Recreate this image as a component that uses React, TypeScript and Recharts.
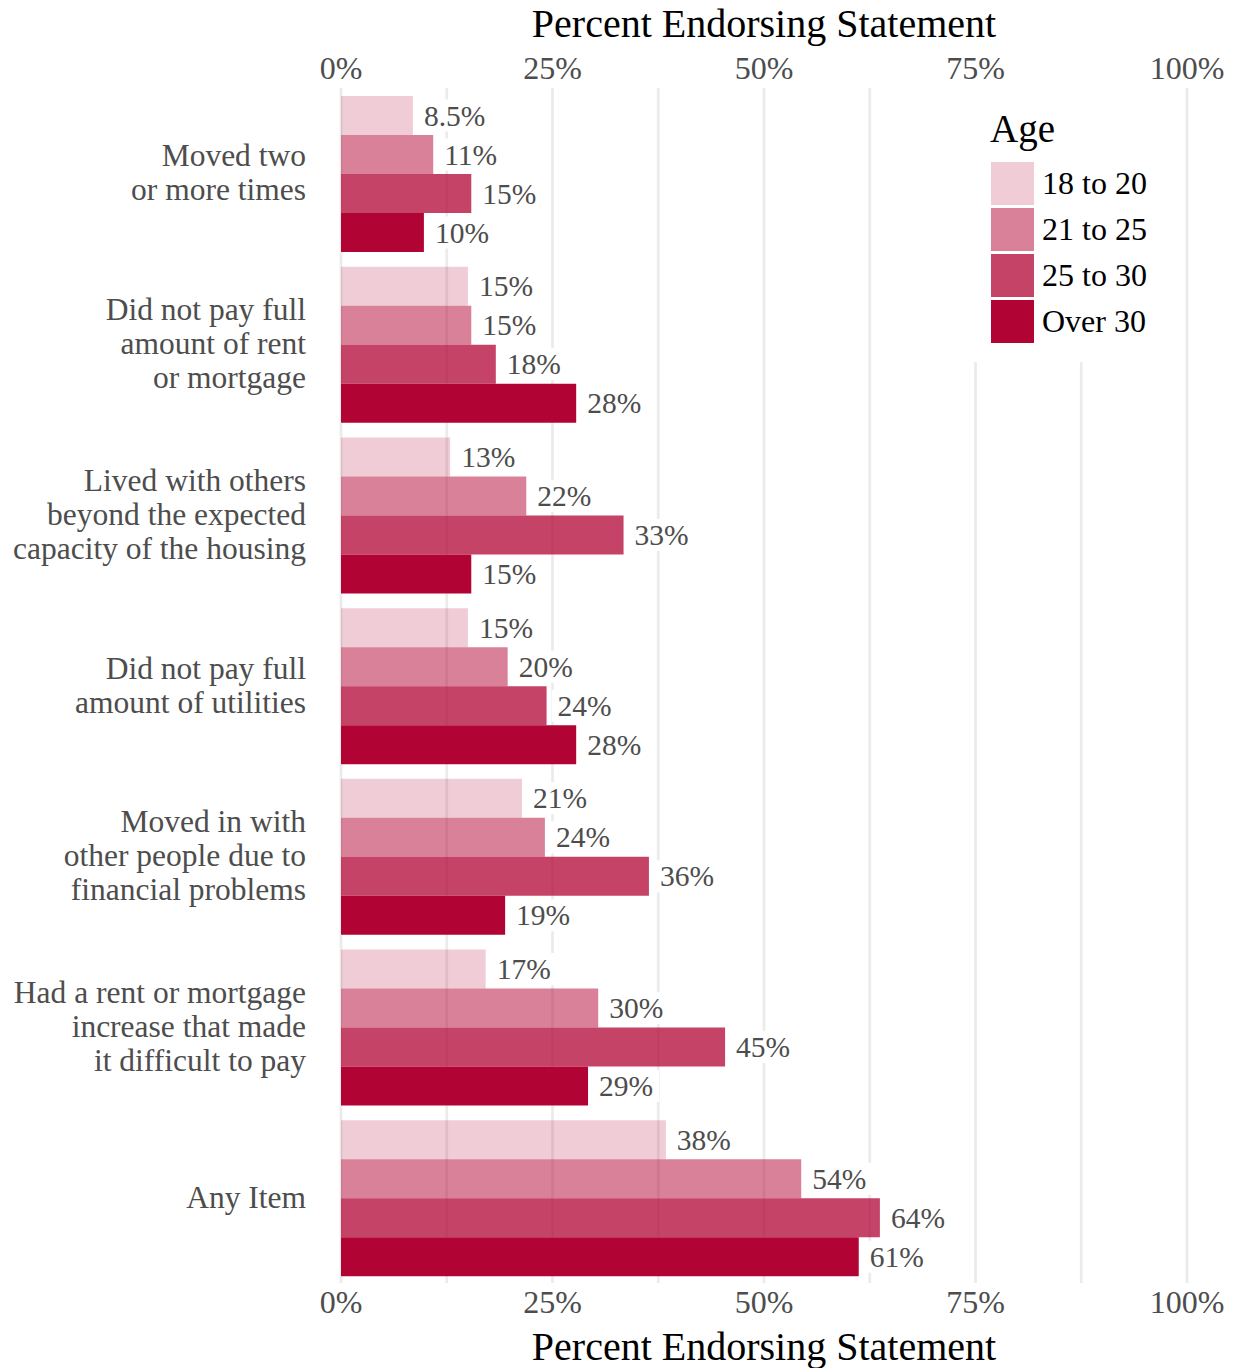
import React from "react";
import { BarChart, Bar, XAxis, YAxis, CartesianGrid, LabelList, Legend } from "recharts";

const FONT = '"Liberation Serif", "Times New Roman", serif';
const BASE = "#b20434";

const categories = [
  "Moved two\nor more times",
  "Did not pay full\namount of rent\nor mortgage",
  "Lived with others\nbeyond the expected\ncapacity of the housing",
  "Did not pay full\namount of utilities",
  "Moved in with\nother people due to\nfinancial problems",
  "Had a rent or mortgage\nincrease that made\nit difficult to pay",
  "Any Item",
];

// percent endorsing, one list per age group
const age18to20 = [8.5, 15.0, 12.9, 15.0, 21.4, 17.1, 38.4];
const age21to25 = [10.9, 15.4, 21.9, 19.7, 24.1, 30.4, 54.4];
const age25to30 = [15.4, 18.3, 33.4, 24.3, 36.4, 45.4, 63.7];
const ageOver30 = [9.8, 27.8, 15.4, 27.8, 19.4, 29.2, 61.2];

const seriesNames = ["18 to 20", "21 to 25", "25 to 30", "Over 30"];
const seriesOpacity = [0.2, 0.5, 0.75, 1];

const xTicks = [0, 25, 50, 75, 100];
const gridValues = [0, 12.5, 25, 37.5, 50, 62.5, 75, 87.5, 100];

const rows = categories.map((name, i) => ({
  name,
  s0: age18to20[i],
  s1: age21to25[i],
  s2: age25to30[i],
  s3: ageOver30[i],
}));

const fmt = (v: number) => (v < 9.5 ? v.toFixed(1) : String(Math.round(v))) + "%";

const textWidth = (s: string, size: number) =>
  s.split("").reduce((w, c) => w + (c === "%" ? 0.833 : c === "." ? 0.25 : 0.5), 0) * size;

function CategoryTick(props: any) {
  const { x, y, payload } = props;
  const lines = String(payload.value).split("\n");
  const n = lines.length;
  return (
    <text x={x} y={y} textAnchor="end" fontFamily={FONT} fontSize={31.5} fill="#4d4d4d">
      {lines.map((l, i) => (
        <tspan key={i} x={x} y={y + (i - (n - 1) / 2) * 34 + 10}>
          {l}
        </tspan>
      ))}
    </text>
  );
}

function PctTick(props: any) {
  const { x, y, payload, side } = props;
  const ty = side === "top" ? y - 9 : y + 30;
  return (
    <text x={x} y={ty} textAnchor="middle" fontFamily={FONT} fontSize={32} fill="#4d4d4d">
      {payload.value}%
    </text>
  );
}

function axisTitle(side: "top" | "bottom") {
  return (props: any) => {
    const vb = props.viewBox || {};
    const cx = (vb.x ?? 341) + (vb.width ?? 846) / 2;
    const y = side === "top" ? (vb.y ?? 0) + 37 : (vb.y ?? 1283) + 77;
    return (
      <text x={cx} y={y} textAnchor="middle" fontFamily={FONT} fontSize={40} fill="#000">
        Percent Endorsing Statement
      </text>
    );
  };
}

function ValueLabel(props: any) {
  const { x, y, width, height, value } = props;
  if (value == null) return null;
  const txt = fmt(Number(value));
  const w = textWidth(txt, 29.5);
  const x0 = Number(x) + Number(width) + 11;
  const cy = Number(y) + Number(height) / 2;
  return (
    <g>
      <rect x={x0 - 6} y={cy - 16} width={w + 12} height={32} fill="#ffffff" />
      <text x={x0} y={cy + 10} fontFamily={FONT} fontSize={29.5} fill="#4d4d4d">
        {txt}
      </text>
    </g>
  );
}

function AgeLegend() {
  return (
    <div style={{ position: "relative", width: 200, height: 274, background: "#fff", fontFamily: FONT }}>
      <div style={{ position: "absolute", left: 22, top: 21, fontSize: 39, lineHeight: "39px", color: "#000" }}>Age</div>
      {seriesNames.map((n, i) => (
        <div
          key={n}
          style={{ position: "absolute", left: 23, top: 74 + i * 46, display: "flex", alignItems: "center", height: 43 }}
        >
          <div style={{ width: 43, height: 43, background: BASE, opacity: seriesOpacity[i] }} />
          <span style={{ marginLeft: 8, fontSize: 32, color: "#000", whiteSpace: "nowrap" }}>{n}</span>
        </div>
      ))}
    </div>
  );
}

export default function App() {
  return (
    <>
      <style>{"body{margin:0}"}</style>
      <BarChart
        width={1236}
        height={1368}
        data={rows}
        layout="vertical"
        margin={{ top: 0, right: 49, bottom: 0, left: 0 }}
        barCategoryGap={8}
        barGap={0}
      >
        <CartesianGrid
          xAxisId="bottom"
          horizontal={false}
          stroke="#ebebeb"
          strokeWidth={2.7}
          verticalCoordinatesGenerator={({ xAxis, offset }: any) =>
            gridValues.map((v) =>
              xAxis && typeof xAxis.scale === "function"
                ? xAxis.scale(v)
                : offset.left + (v / 100) * offset.width
            )
          }
        />
        <XAxis
          xAxisId="bottom"
          type="number"
          orientation="bottom"
          domain={[0, 100]}
          allowDataOverflow
          ticks={xTicks}
          interval={0}
          height={85}
          tickLine={false}
          axisLine={false}
          tickSize={0}
          tickMargin={0}
          tick={<PctTick side="bottom" />}
          label={axisTitle("bottom")}
        />
        <XAxis
          xAxisId="top"
          type="number"
          orientation="top"
          domain={[0, 100]}
          allowDataOverflow
          ticks={xTicks}
          interval={0}
          height={88}
          tickLine={false}
          axisLine={false}
          tickSize={0}
          tickMargin={0}
          tick={<PctTick side="top" />}
          label={axisTitle("top")}
        />
        <YAxis
          type="category"
          dataKey="name"
          width={341}
          interval={0}
          tickLine={false}
          axisLine={false}
          tickSize={0}
          tickMargin={35}
          tick={<CategoryTick />}
        />
        <Legend
          layout="horizontal"
          verticalAlign="middle"
          align="center"
          wrapperStyle={{ left: 968, top: 88, width: 200, height: 274 }}
          content={<AgeLegend />}
        />
        {seriesNames.map((n, i) => (
          <Bar
            key={n}
            xAxisId="bottom"
            dataKey={`s${i}`}
            name={n}
            fill={BASE}
            fillOpacity={seriesOpacity[i]}
            isAnimationActive={false}
          >
            <LabelList dataKey={`s${i}`} content={<ValueLabel />} />
          </Bar>
        ))}
      </BarChart>
    </>
  );
}
